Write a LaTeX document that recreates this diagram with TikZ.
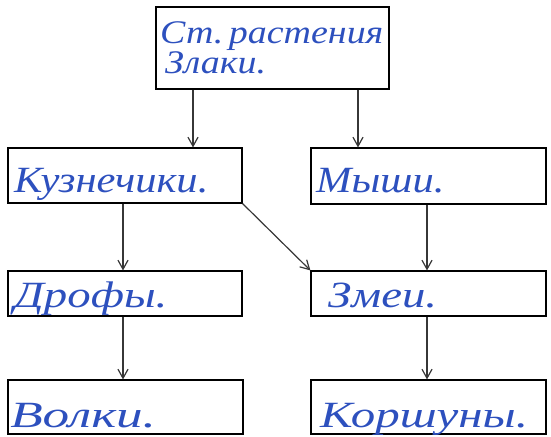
\documentclass[tikz,border=0pt]{standalone}
\usepackage{fontspec}
\setmainfont{Liberation Serif}
\newfontfamily\handfont[FakeStretch=1.15]{Liberation Serif}
\usetikzlibrary{arrows.meta}
\definecolor{ink}{RGB}{45,80,190}
\definecolor{arrcol}{RGB}{55,55,55}
\begin{document}
\begin{tikzpicture}[x=1pt,y=-1pt,
  box/.style={draw,line width=1.1pt,inner sep=0pt},
  hw/.style={text=ink,inner sep=0pt,anchor=base west,font=\handfont\fontsize{37}{40}\selectfont\itshape},
  hwtop/.style={hw,font=\handfont\fontsize{33}{35}\selectfont\itshape},
  arr/.style={draw=arrcol,line width=1.2pt,-{Straight Barb[length=9pt,width=10pt]}}]
\useasboundingbox (0,0) rectangle (551,436);
% boxes
\node[box,minimum width=233pt,minimum height=82pt] (top) at (272.5,48) {};
\node[box,minimum width=234pt,minimum height=55pt] (kuz) at (125,175.5) {};
\node[box,minimum width=235pt,minimum height=56pt] (mys) at (428.5,176) {};
\node[box,minimum width=234pt,minimum height=45pt] (dro) at (125,293.5) {};
\node[box,minimum width=235pt,minimum height=45pt] (zme) at (428.5,293.5) {};
\node[box,minimum width=235pt,minimum height=54pt] (vol) at (125.5,407) {};
\node[box,minimum width=235pt,minimum height=54pt] (kor) at (428.5,407) {};
% texts
\node[hwtop] (t1) at (160,44) {Ст.\,растения};
\node[hwtop] (t2) at (165,74) {Злаки.};
\node[hw] (tk) at (14,192) {Кузнечики.};
\node[hw] (tm) at (316,192) {Мыши.};
\node[hw,transform shape,xscale=1.1] (td) at (14,307) {Дрофы.};
\node[hw,transform shape,xscale=1.1] (tz) at (328,307) {Змеи.};
\node[hw,transform shape,xscale=1.25] (tv) at (10,427) {Волки.};
\node[hw,transform shape,xscale=1.15] (tr) at (320,427) {Коршуны.};
% arrows
\draw[arr] ([xshift=-79.5pt]top.south) -- ([xshift=-79.5pt]top.south |- kuz.north);
\draw[arr] ([xshift=85.5pt]top.south) -- ([xshift=85.5pt]top.south |- mys.north);
\draw[arr] ([xshift=-2pt]kuz.south) -- ([xshift=-2pt]kuz.south |- dro.north);
\draw[arr] ([xshift=-1.5pt]mys.south) -- ([xshift=-1.5pt]mys.south |- zme.north);
\draw[arr] (kuz.south east) -- (zme.north west);
\draw[arr] ([xshift=-2pt]dro.south) -- ([xshift=-2pt]dro.south |- vol.north);
\draw[arr] ([xshift=-1.5pt]zme.south) -- ([xshift=-1.5pt]zme.south |- kor.north);
\end{tikzpicture}
\end{document}
